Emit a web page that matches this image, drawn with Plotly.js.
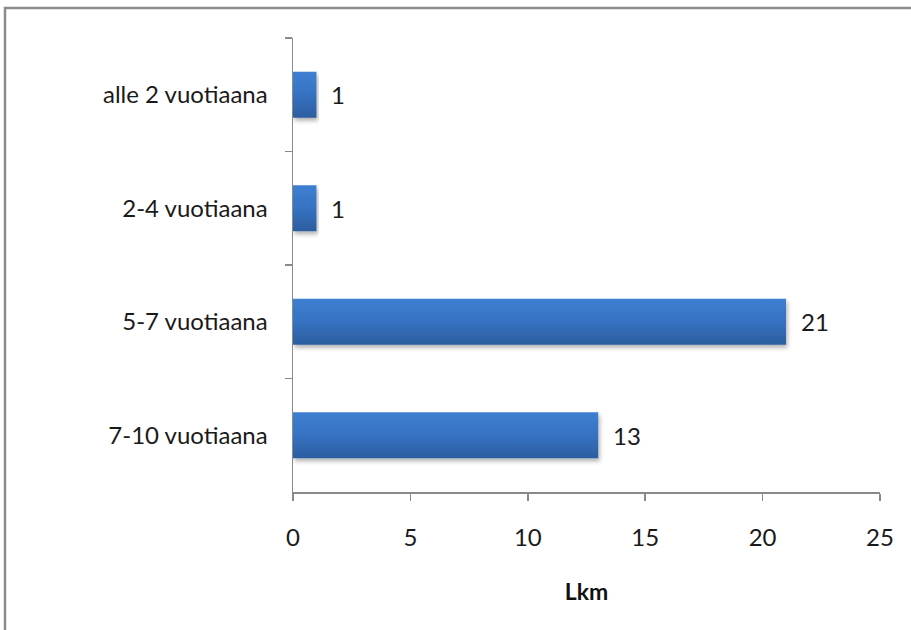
<!DOCTYPE html>
<html>
<head>
<meta charset="utf-8">
<script src="https://cdn.plot.ly/plotly-3.0.1.min.js"></script>
<style>
  html, body { margin: 0; padding: 0; background: #ffffff; }
  #chart { width: 911px; height: 630px; }
</style>
</head>
<body>
<div id="chart"></div>
<script>
// Age groups, listed top to bottom as shown
const ageGroups = ['alle 2 vuotiaana', '2-4 vuotiaana', '5-7 vuotiaana', '7-10 vuotiaana'];
const counts = [1, 1, 21, 13];
const xTickValues = [0, 5, 10, 15, 20, 25];
const xAxisTitle = 'Lkm';

const font = 'Lato, "Open Sans", sans-serif';
const axisGray = '#8a8a8a';

const trace = {
  type: 'bar',
  orientation: 'h',
  x: counts,
  y: ageGroups,
  marker: { color: '#3670bd', line: { width: 0 } },
  hoverinfo: 'none'
};

// value labels placed just right of each bar end
const valueLabels = counts.map((v, i) => ({
  x: v, y: ageGroups[i], xref: 'x', yref: 'y',
  text: String(v), showarrow: false,
  xanchor: 'left', xshift: 13,
  font: { family: font, size: 24, color: '#1a1a1a' }
}));

const layout = {
  width: 911, height: 630,
  margin: { l: 293, r: 31, t: 38, b: 138 },
  paper_bgcolor: '#ffffff', plot_bgcolor: '#ffffff',
  showlegend: false,
  bargap: 0.595,
  font: { family: font, size: 24, color: '#1a1a1a' },
  xaxis: {
    range: [0, 25],
    tickvals: xTickValues,
    ticks: 'outside', ticklen: 7, tickwidth: 1.5, tickcolor: axisGray,
    showline: true, linecolor: axisGray, linewidth: 1.5,
    showgrid: false, zeroline: false,
    tickfont: { family: font, size: 24, color: '#1a1a1a' },
    ticklabelstandoff: 17,
    title: { text: '<b>' + xAxisTitle + '</b>', font: { family: font, size: 23, color: '#111111' }, standoff: 33 }
  },
  yaxis: {
    type: 'category',
    autorange: 'reversed',
    ticks: 'outside', tickson: 'boundaries', ticklen: 7, tickwidth: 1.5, tickcolor: axisGray,
    showline: true, linecolor: axisGray, linewidth: 1.5,
    showgrid: false, zeroline: false,
    tickfont: { family: font, size: 24, color: '#1a1a1a' },
    ticklabelstandoff: 19
  },
  annotations: valueLabels,
  shapes: [{
    type: 'rect', xref: 'paper', yref: 'paper', layer: 'below',
    x0: -288 / 587, x1: 1.3, y0: -0.6, y1: 1 + 30 / 454,
    line: { color: '#8c8c8c', width: 2.5 }, fillcolor: 'rgba(0,0,0,0)'
  }]
};

Plotly.newPlot('chart', [trace], layout, { staticPlot: true, displayModeBar: false }).then(gd => {
  // vertical blue gradient and soft shadow on the bars
  const svg = gd.querySelector('.main-svg');
  const ns = 'http://www.w3.org/2000/svg';
  let defs = svg.querySelector('defs');
  if (!defs) { defs = document.createElementNS(ns, 'defs'); svg.insertBefore(defs, svg.firstChild); }
  const grad = document.createElementNS(ns, 'linearGradient');
  grad.setAttribute('id', 'barFill');
  grad.setAttribute('x1', '0'); grad.setAttribute('y1', '0');
  grad.setAttribute('x2', '0'); grad.setAttribute('y2', '1');
  [['0', '#3e7fd2'], ['0.5', '#3672c2'], ['1', '#2c5d9f']].forEach(([o, c]) => {
    const s = document.createElementNS(ns, 'stop');
    s.setAttribute('offset', o); s.setAttribute('stop-color', c);
    grad.appendChild(s);
  });
  defs.appendChild(grad);
  const filt = document.createElementNS(ns, 'filter');
  filt.setAttribute('id', 'barShadow');
  filt.setAttribute('x', '-5%'); filt.setAttribute('y', '-20%');
  filt.setAttribute('width', '115%'); filt.setAttribute('height', '150%');
  const sh = document.createElementNS(ns, 'feDropShadow');
  sh.setAttribute('dx', '1.5'); sh.setAttribute('dy', '3');
  sh.setAttribute('stdDeviation', '2'); sh.setAttribute('flood-color', '#000');
  sh.setAttribute('flood-opacity', '0.3');
  filt.appendChild(sh);
  defs.appendChild(filt);
  gd.querySelectorAll('.bars .point path').forEach(p => {
    p.style.fill = 'url(#barFill)';
    p.setAttribute('filter', 'url(#barShadow)');
  });
});
</script>
</body>
</html>
